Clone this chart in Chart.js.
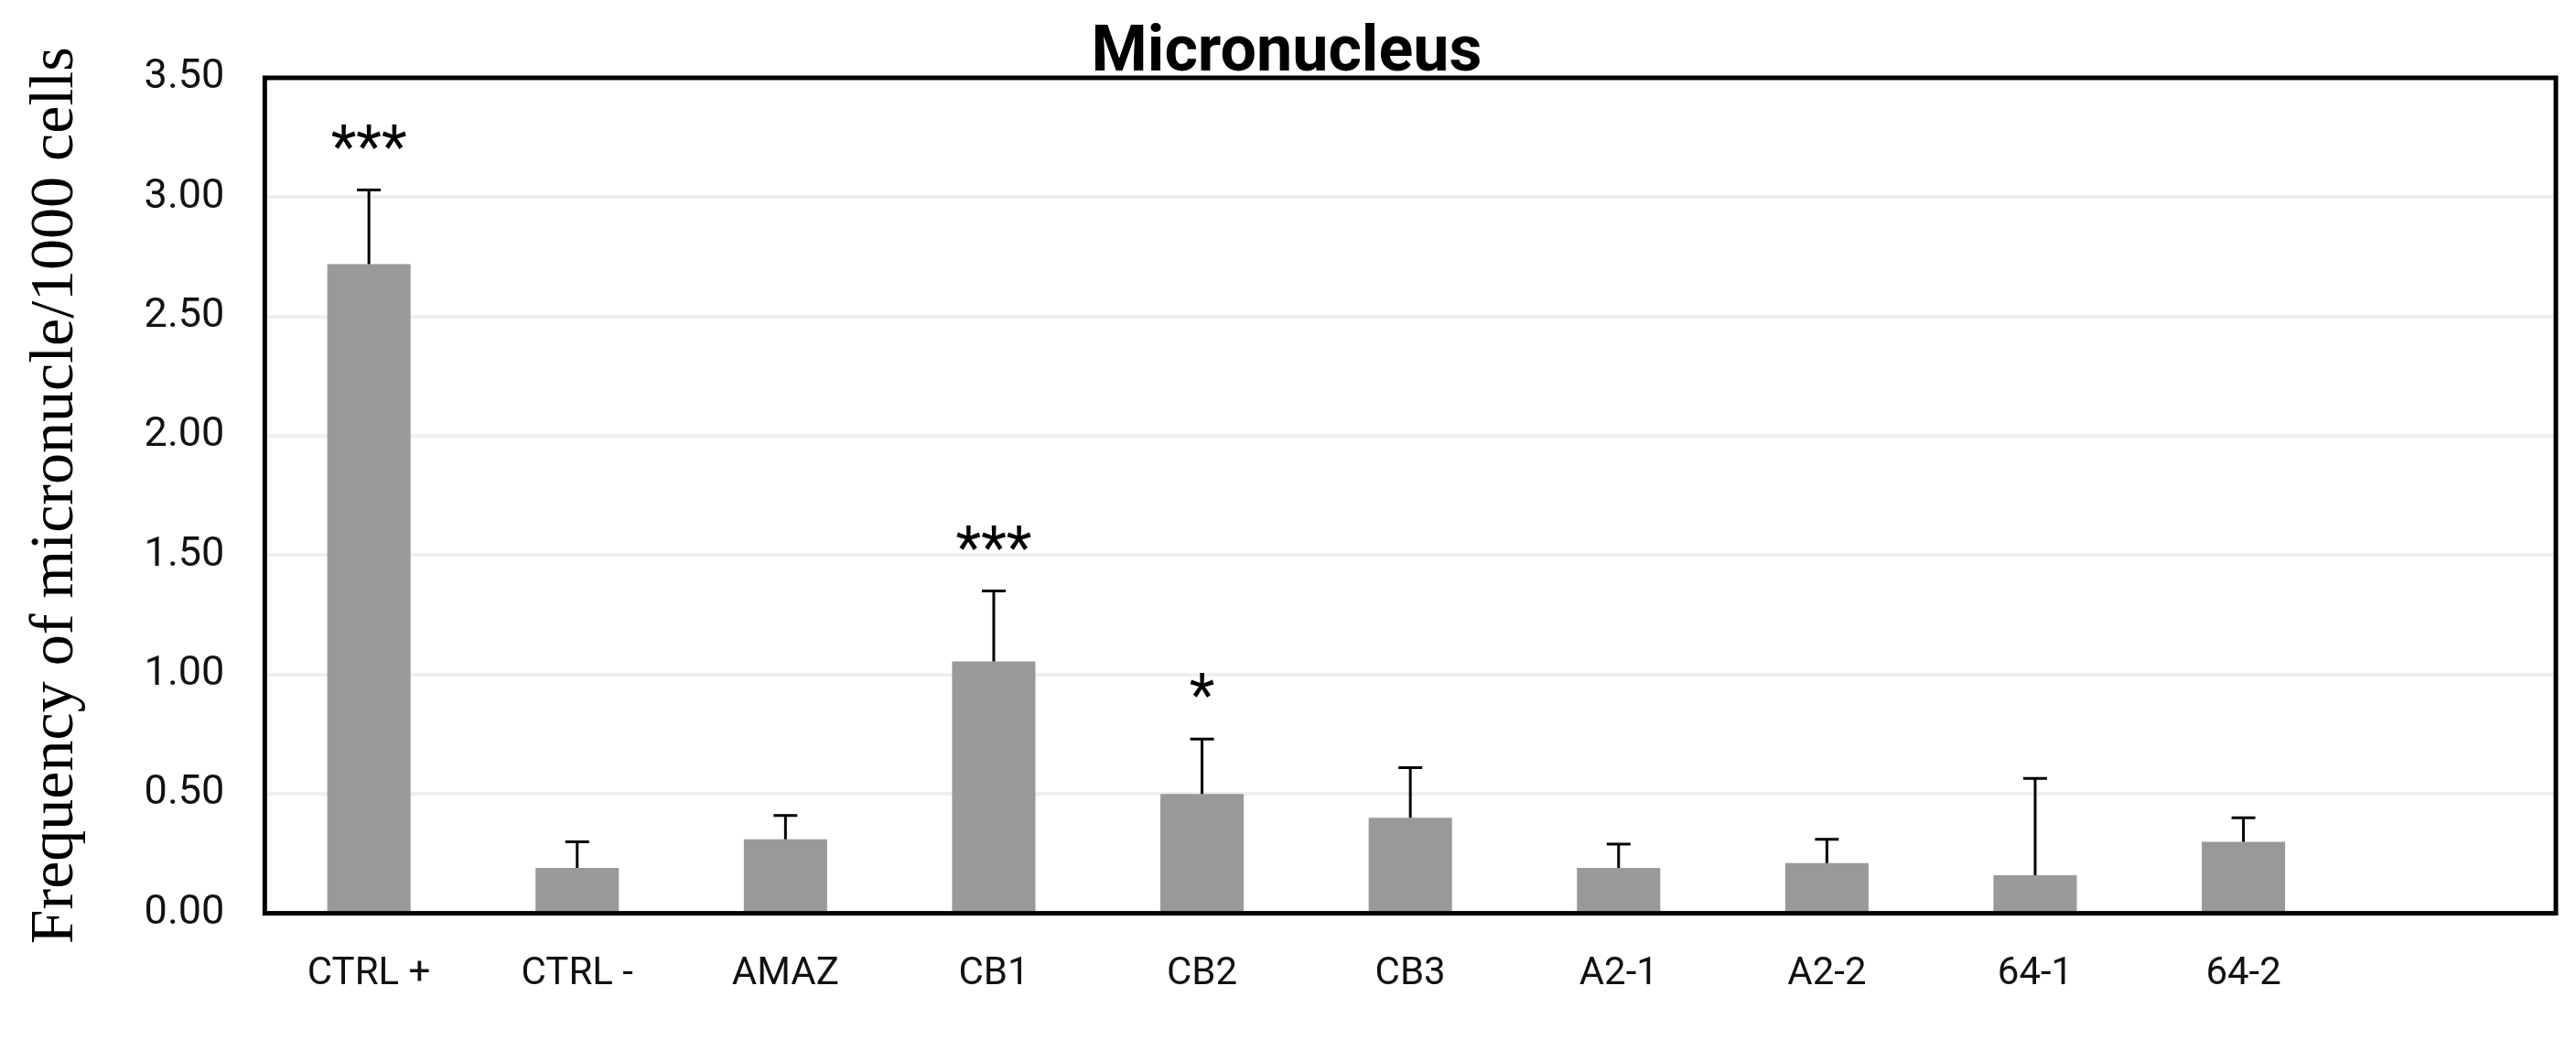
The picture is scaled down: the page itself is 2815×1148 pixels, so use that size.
<!DOCTYPE html>
<html><head><meta charset="utf-8">
<script src="https://cdn.jsdelivr.net/npm/chart.js@4.4.1/dist/chart.umd.min.js"></script>
<style>html,body{margin:0;padding:0;background:#fff;} canvas{display:block;}</style>
</head><body>
<canvas id="c" width="2815" height="1148"></canvas>
<script>
const categories = ['CTRL +','CTRL -','AMAZ','CB1','CB2','CB3','A2-1','A2-2','64-1','64-2',''];
const means = [2.72, 0.19, 0.31, 1.055, 0.50, 0.40, 0.19, 0.21, 0.16, 0.30, null];
const errors = [0.31, 0.11, 0.10, 0.295, 0.23, 0.21, 0.10, 0.10, 0.405, 0.10, null];
const significance = ['***','','','***','*','','','','','',''];
const yMin = 0, yMax = 3.5, yStep = 0.5;
const chartTitle = 'Micronucleus';
const yAxisTitle = 'Frequency of micronucle/1000 cells';

const extras = {
  id: 'extras',
  afterDatasetsDraw(chart) {
    const ctx = chart.ctx, xs = chart.scales.x, ys = chart.scales.y;
    ctx.save();
    ctx.strokeStyle = '#000';
    ctx.fillStyle = '#000';
    means.forEach((m, i) => {
      if (m == null) return;
      const cx = xs.getPixelForValue(i);
      const y0 = ys.getPixelForValue(m);
      const y1 = ys.getPixelForValue(m + errors[i]);
      ctx.lineWidth = 3;
      ctx.beginPath();
      ctx.moveTo(cx, y0); ctx.lineTo(cx, y1);
      ctx.moveTo(cx - 13, y1); ctx.lineTo(cx + 13, y1);
      ctx.stroke();
      if (significance[i]) {
        ctx.font = '64px Roboto';
        ctx.textAlign = 'center';
        ctx.textBaseline = 'alphabetic';
        ctx.fillText(significance[i], cx, y1 - 26);
      }
    });
    const a = chart.chartArea;
    ctx.lineWidth = 5;
    ctx.strokeRect(a.left, a.top, a.right - a.left, a.bottom - a.top);
    ctx.font = 'bold 70px Roboto';
    ctx.textAlign = 'center';
    ctx.textBaseline = 'alphabetic';
    ctx.fillText(chartTitle, a.left + (a.right - a.left) * 0.446, 77);
    ctx.restore();
  }
};

new Chart(document.getElementById('c'), {
  type: 'bar',
  data: {
    labels: categories,
    datasets: [{
      data: means,
      backgroundColor: '#999999',
      borderWidth: 0,
      barPercentage: 0.4,
      categoryPercentage: 1.0
    }]
  },
  options: {
    responsive: false,
    animation: false,
    devicePixelRatio: 1,
    layout: { padding: { top: 85, right: 22, bottom: 24, left: 3 } },
    plugins: { legend: { display: false }, tooltip: { enabled: false }, title: { display: false } },
    scales: {
      x: {
        grid: { display: false },
        border: { display: false },
        ticks: { color: '#111', font: { family: 'Roboto', size: 42 }, padding: 34, maxRotation: 0, autoSkip: false }
      },
      y: {
        min: yMin, max: yMax,
        grid: {
          color: (c) => (c.tick && (c.tick.value === yMin || c.tick.value === yMax)) ? 'rgba(0,0,0,0)' : '#efefef',
          lineWidth: 4,
          drawTicks: false
        },
        border: { display: false },
        ticks: { stepSize: yStep, color: '#111', font: { family: 'Roboto', size: 45 }, padding: 44, callback: (v) => Number(v).toFixed(2) },
        title: { display: true, text: yAxisTitle, color: '#000', font: { family: 'Liberation Serif', size: 68 }, padding: { top: 17, bottom: 12 } }
      }
    }
  },
  plugins: [extras]
});
</script>
</body></html>
